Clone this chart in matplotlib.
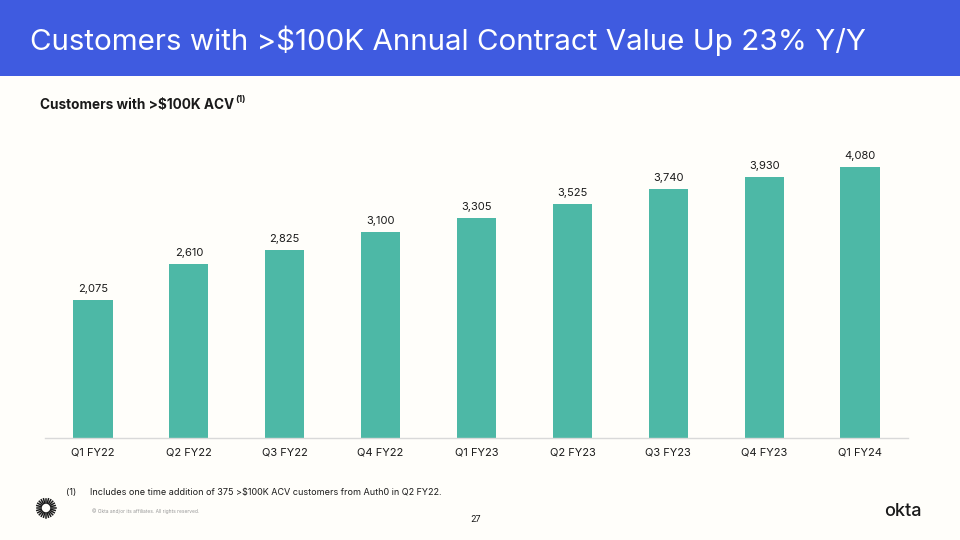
import matplotlib
matplotlib.use('Agg')
import matplotlib.pyplot as plt
from matplotlib.lines import Line2D
from matplotlib.patches import Rectangle
import numpy as np

quarters = ["Q1 FY22", "Q2 FY22", "Q3 FY22", "Q4 FY22", "Q1 FY23",
            "Q2 FY23", "Q3 FY23", "Q4 FY23", "Q1 FY24"]
customers = [2075, 2610, 2825, 3100, 3305, 3525, 3740, 3930, 4080]

title = "Customers with >$100K Annual Contract Value Up 23% Y/Y"
subtitle = "Customers with >$100K ACV"
footnote = "Includes one time addition of 375 >$100K ACV customers from Auth0 in Q2 FY22."

BG = '#FFFEFA'
BLUE = '#3F5BE0'
TEAL = '#4DB8A6'
DARK = '#1A1A1A'

plt.rcParams['font.family'] = ['Inter', 'DejaVu Sans']

fig = plt.figure(figsize=(9.6, 5.4), dpi=100, facecolor=BG)

# header band
fig.add_artist(Rectangle((0, 1 - 76 / 540), 1, 76 / 540, transform=fig.transFigure,
                         facecolor=BLUE, edgecolor='none'))
fig.text(30 / 960, 1 - 41 / 540, title, color='white', fontsize=21.3,
         va='center', ha='left')

# subtitle with superscript
sub = fig.text(40 / 960, 1 - 105 / 540, subtitle, color=DARK, fontsize=9.8,
               fontweight='bold', va='center', ha='left')
fig.canvas.draw()
bb = sub.get_window_extent()
fig.text(bb.x1 / 960 + 0.001, 1 - 100 / 540, "(1)", color=DARK, fontsize=6.5,
         fontweight='bold', va='center', ha='left')

# chart
ax = fig.add_axes([45 / 960, 1 - 438 / 540, 863 / 960, 298 / 540])
ax.set_facecolor(BG)
x = np.arange(len(quarters))
ax.bar(x, customers, width=0.41, color=TEAL, zorder=2)
for xi, v in zip(x, customers):
    ax.text(xi, v + 90, f"{v:,}", ha='center', va='bottom', fontsize=8, color=DARK)
ax.set_xlim(-0.5, len(quarters) - 0.5)
ax.set_ylim(0, 4481)
ax.set_xticks(x)
ax.set_xticklabels(quarters, fontsize=8, color=DARK)
ax.tick_params(axis='x', length=0, pad=7)
ax.set_yticks([])
for s in ['top', 'right', 'left']:
    ax.spines[s].set_visible(False)
ax.spines['bottom'].set_color('#D9D9D9')
ax.spines['bottom'].set_linewidth(1)

# footnote
fig.text(66 / 960, 1 - 493 / 540, "(1)", fontsize=6.5, color=DARK, va='center')
fig.text(90 / 960, 1 - 493 / 540, footnote, fontsize=6.5, color=DARK, va='center')
fig.text(92 / 960, 1 - 511 / 540, "\u00a9 Okta and/or its affiliates. All rights reserved.",
         fontsize=3.5, color='#9A9A9A', va='center')
fig.text(476 / 960, 1 - 519 / 540, "27", fontsize=6.5, color=DARK, va='center', ha='center')
fig.text(903 / 960, 1 - 511 / 540, "okta", fontsize=13, color=DARK, va='center',
         ha='center', fontweight='medium')

# sunburst logo
cx = 46
for a in np.linspace(0, 2 * np.pi, 24, endpoint=False):
    r0, r1 = 5, 9.5
    xs = [cx + r0 * np.cos(a), cx + r1 * np.cos(a)]
    ys = [508 - r0 * np.sin(a), 508 - r1 * np.sin(a)]
    fig.add_artist(Line2D([v / 960 for v in xs], [1 - v / 540 for v in ys],
                          transform=fig.transFigure, color=DARK, lw=1.1))

fig.savefig('out.png', dpi=100, facecolor=BG)
